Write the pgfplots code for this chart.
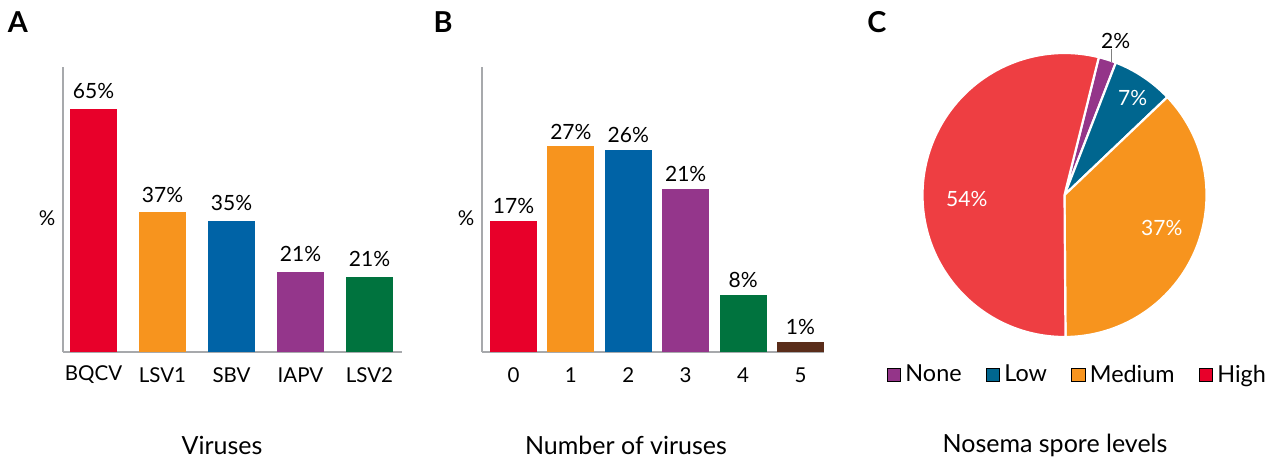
\documentclass[border=0pt]{standalone}
\usepackage{pgfplots}
\pgfplotsset{compat=1.18}
\usepackage{pgfplotstable}
\usepackage{fontspec}
\setmainfont{Lato}
\definecolor{cRed}{HTML}{E8002A}
\definecolor{cOrange}{HTML}{F7941E}
\definecolor{cBlue}{HTML}{0063A6}
\definecolor{cPurple}{HTML}{94368B}
\definecolor{cGreen}{HTML}{00733E}
\definecolor{cBrown}{HTML}{5A2D1A}
\definecolor{pPurple}{HTML}{943589}
\definecolor{pBlue}{HTML}{00668F}
\definecolor{pOrange}{HTML}{F7941E}
\definecolor{pRed}{HTML}{EE3E42}
\definecolor{axisgray}{HTML}{A7A9AC}
\newcommand{\fTick}{\fontsize{10.25}{12}\selectfont}
\newcommand{\fVal}{\fontsize{10.5}{12}\selectfont}
\newcommand{\fTitle}{\fontsize{12.5}{14}\selectfont}
\newcommand{\fLeg}{\fontsize{11.7}{13}\selectfont}

\pgfplotstableread{
name value
None 2
Low 7
Medium 37
High 54
}\pietable
\pgfplotstablegetelem{0}{value}\of\pietable \let\vNone\pgfplotsretval
\pgfplotstablegetelem{1}{value}\of\pietable \let\vLow\pgfplotsretval
\pgfplotstablegetelem{2}{value}\of\pietable \let\vMed\pgfplotsretval
\pgfplotstablegetelem{3}{value}\of\pietable \let\vHigh\pgfplotsretval

\pgfplotsset{
  barax/.style={
    scale only axis, anchor=south west,
    height=142.5pt, ymin=0,
    axis x line*=bottom, axis y line*=left,
    axis line style={draw=axisgray, line width=1pt, -},
    ytick=\empty, major tick length=0pt,
    xticklabel style={font=\fTick, anchor=center, yshift=-11.5pt},
    ybar, bar width=23.5pt,
    point meta=explicit symbolic,
    nodes near coords={\pgfplotspointmeta\%},
    every node near coord/.append style={font=\fVal, text=black},
    clip=false,
  },
  onebar/.style={fill=#1, draw=none, bar shift=0pt},
}

\begin{document}
\begin{tikzpicture}
\path[use as bounding box] (0pt,0pt) rectangle (637.5pt,230.5pt);

% ---------- Panel A ----------
\begin{axis}[barax, at={(31.5pt,54.5pt)}, width=169.5pt,
  xmin=-0.442, xmax=4.471, ymax=76,
  xtick={0,1,2,3,4}, xticklabels={BQCV,LSV1,SBV,IAPV,LSV2},
  every node near coord/.append style={yshift=1.5pt}]
\addplot[onebar=cRed] coordinates {(0,64.9) [65]};
\addplot[onebar=cOrange] coordinates {(1,37.2) [37]};
\addplot[onebar=cBlue] coordinates {(2,34.9) [35]};
\addplot[onebar=cPurple] coordinates {(3,21.3) [21]};
\addplot[onebar=cGreen] coordinates {(4,20.0) [21]};
\end{axis}

% ---------- Panel B ----------
\begin{axis}[barax, at={(241pt,54.5pt)}, width=171pt,
  xmin=-0.549, xmax=5.41, ymax=37,
  xtick={0,1,2,3,4,5}, xticklabels={0,1,2,3,4,5},
  every node near coord/.append style={yshift=0pt}]
\addplot[onebar=cRed] coordinates {(0,17.0) [17]};
\addplot[onebar=cOrange] coordinates {(1,26.7) [27]};
\addplot[onebar=cBlue] coordinates {(2,26.2) [26]};
\addplot[onebar=cPurple] coordinates {(3,21.2) [21]};
\addplot[onebar=cGreen] coordinates {(4,7.4) [8]};
\addplot[onebar=cBrown] coordinates {(5,1.3) [1]};
\end{axis}

% ---------- Panel C ----------
\pgfmathsetmacro\aA{76}
\pgfmathsetmacro\aB{\aA-3.6*\vNone}
\pgfmathsetmacro\aC{\aB-3.6*\vLow}
\pgfmathsetmacro\aD{\aC-3.6*\vMed}
\pgfmathsetmacro\aE{\aD-3.6*\vHigh}
\begin{axis}[at={(532.25pt,133pt)}, anchor=center, scale only axis,
  width=142pt, height=142pt, xmin=-1, xmax=1, ymin=-1, ymax=1,
  hide axis, clip=false,
  legend columns=4,
  legend image code/.code={\fill[#1] (0pt,-3.3pt) rectangle (6.6pt,3.3pt);},
  legend style={draw=none, fill=none, at={(0.55,-0.134)}, anchor=center,
    font=\fLeg, inner sep=0pt,
    /tikz/every even column/.append style={column sep=10pt},
    nodes={inner xsep=2.2pt}},
  legend cell align=left]
\fill[pPurple, draw=white, line width=1.1pt] (axis cs:0,0) -- ++(\aA:71pt) arc[start angle=\aA, end angle=\aB, radius=71pt] -- cycle;
\fill[pBlue, draw=white, line width=1.1pt] (axis cs:0,0) -- ++(\aB:71pt) arc[start angle=\aB, end angle=\aC, radius=71pt] -- cycle;
\fill[pOrange, draw=white, line width=1.1pt] (axis cs:0,0) -- ++(\aC:71pt) arc[start angle=\aC, end angle=\aD, radius=71pt] -- cycle;
\fill[pRed, draw=white, line width=1.1pt] (axis cs:0,0) -- ++(\aD:71pt) arc[start angle=\aD, end angle=\aE, radius=71pt] -- cycle;
\draw[gray, line width=0.6pt] (axis cs:0.333,0.94) -- (axis cs:0.333,1.025);
\node[font=\fVal] at (axis cs:0.36,1.087) {2\%};
\node[font=\fVal, text=white] at (axis cs:0.48,0.68) {7\%};
\node[font=\fVal, text=white] at (axis cs:0.685,-0.23) {37\%};
\node[font=\fVal, text=white] at (axis cs:-0.688,-0.03) {54\%};
\addlegendimage{fill=pPurple}\addlegendentry{None}
\addlegendimage{fill=pBlue}\addlegendentry{Low}
\addlegendimage{fill=pOrange}\addlegendentry{Medium}
\addlegendimage{fill=cRed}\addlegendentry{High}
\end{axis}

% ---------- Texts ----------
\node[font=\fontsize{14.4}{16}\selectfont\bfseries] at (9pt,219.5pt) {A};
\node[font=\fontsize{14.4}{16}\selectfont\bfseries] at (221.5pt,219.5pt) {B};
\node[font=\fontsize{14.4}{16}\selectfont\bfseries] at (438.5pt,219.5pt) {C};
\node[font=\fTick] at (23.5pt,121.5pt) {\%};
\node[font=\fTick] at (233pt,121.5pt) {\%};
\node[font=\fTitle] at (111pt,8pt) {Viruses};
\node[font=\fTitle] at (313pt,8pt) {Number of viruses};
\node[font=\fTitle] at (527.5pt,8pt) {Nosema spore levels};
\end{tikzpicture}
\end{document}
